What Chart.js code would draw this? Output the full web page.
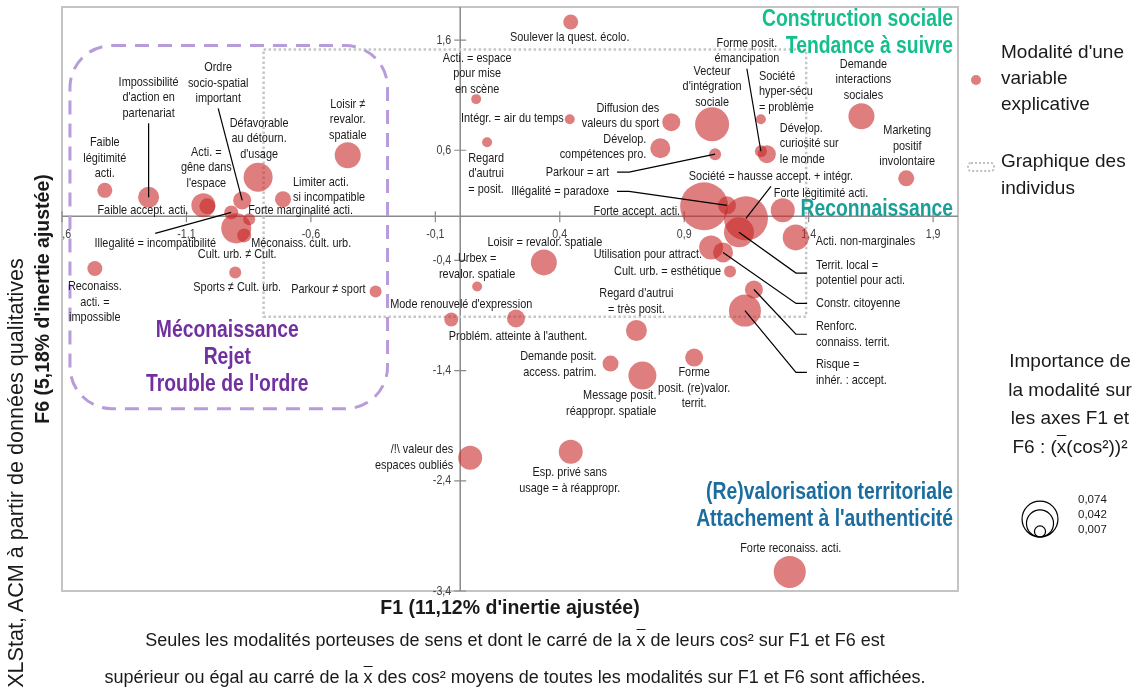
<!DOCTYPE html>
<html lang="fr">
<head>
<meta charset="utf-8">
<title>ACM - plan F1 x F6</title>
<script src="https://cdn.jsdelivr.net/npm/chart.js@4.4.1/dist/chart.umd.min.js"></script>
<style>
  html, body { margin: 0; padding: 0; background: #fff; }
  #wrap { position: relative; width: 1137px; height: 695px; overflow: hidden;
          font-family: "Liberation Sans", Arial, sans-serif; color: #1a1a1a; }
  #wrap canvas { position: absolute; left: 0; top: 0; }
  .txt { position: absolute; white-space: nowrap; }
  .ov { text-decoration: overline; }
  .rot { transform: translate(-50%, -50%) rotate(-90deg); }
</style>
</head>
<body>
<div id="wrap">
  <canvas id="chart" width="1137" height="695"></canvas>

  <div class="txt" style="left:310px; top:595px; width:400px; text-align:center; font-weight:bold; font-size:19.5px; line-height:24px;">F1 (11,12% d'inertie ajustée)</div>
  <div class="txt rot" style="left:42px; top:299px; font-weight:bold; font-size:19.5px; line-height:24px;">F6 (5,18% d'inertie ajustée)</div>
  <div class="txt rot" style="left:16px; top:473px; font-size:21.6px; line-height:24px;">XLStat, ACM à partir de données qualitatives</div>

  <div class="txt" style="left:15px; top:622px; width:1000px; text-align:center; font-size:18px; line-height:37px;">
    Seules les modalités porteuses de sens et dont le carré de la <span class="ov">x</span> de leurs cos² sur F1 et F6 est<br>
    supérieur ou égal au carré de la <span class="ov">x</span> des cos² moyens de toutes les modalités sur F1 et F6 sont affichées.
  </div>

  <div class="txt" style="left:1001px; top:39px; font-size:19px; line-height:26px;">Modalité d'une<br>variable<br>explicative</div>
  <div class="txt" style="left:1001px; top:147px; font-size:19px; line-height:27px;">Graphique des<br>individus</div>
  <div class="txt" style="left:995px; top:347px; width:150px; text-align:center; font-size:19px; line-height:28.7px;">Importance de<br>la modalité sur<br>les axes F1 et<br>F6 : (<span class="ov">x</span>(cos²))²</div>
  <div class="txt" id="sizeKeyText" style="left:1078px; top:492px; font-size:11.5px; line-height:15px;"></div>
</div>

<script>
// axes
const xTicks = [-1.6, -1.1, -0.6, -0.1, 0.4, 0.9, 1.4, 1.9];
const yTicks = [-3.4, -2.4, -1.4, -0.4, 0.6, 1.6];

// modalites (coordonnees F1 / F6 et importance (moyenne des cos²)²)
const modalites = [
  'Faible\nlégitimité\nacti.',
  'Impossibilité\nd\'action en\npartenariat',
  'Faible accept. acti.',
  'Acti. =\ngêne dans\nl\'espace',
  'Ordre\nsocio-spatial\nimportant',
  'Défavorable\nau détourn.\nd\'usage',
  'Limiter acti.\nsi incompatible',
  'Loisir ≠\nrevalor.\nspatiale',
  'Illegalité = incompatibilité',
  'Forte marginalité acti.',
  'Cult. urb. ≠ Cult.',
  'Méconaiss. cult. urb.',
  'Sports ≠ Cult. urb.',
  'Reconaiss.\nacti. =\nimpossible',
  'Parkour ≠ sport',
  'Soulever la quest. écolo.',
  'Acti. = espace\npour mise\nen scène',
  'Intégr. = air du temps',
  'Regard\nd\'autrui\n= posit.',
  'Diffusion des\nvaleurs du sport',
  'Dévelop.\ncompétences pro.',
  'Parkour = art',
  'Illégalité = paradoxe',
  'Forte accept. acti.',
  'Vecteur\nd\'intégration\nsociale',
  'Forme posit.\némancipation',
  'Société\nhyper-sécu\n= problème',
  'Dévelop.\ncuriosité sur\nle monde',
  'Demande\ninteractions\nsociales',
  'Marketing\npositif\ninvolontaire',
  'Société = hausse accept. + intégr.',
  'Forte légitimité acti.',
  'Territ. local =\npotentiel pour acti.',
  'Acti. non-marginales',
  'Utilisation pour attract.',
  'Constr. citoyenne',
  'Cult. urb. = esthétique',
  'Renforc.\nconnaiss. territ.',
  'Risque =\ninhér. : accept.',
  'Forme\nposit. (re)valor.\nterrit.',
  'Loisir = revalor. spatiale',
  'Urbex =\nrevalor. spatiale',
  'Mode renouvelé d\'expression',
  'Problém. atteinte à l\'authent.',
  'Regard d\'autrui\n= très posit.',
  'Demande posit.\naccess. patrim.',
  'Message posit.\nréappropr. spatiale',
  '/!\\ valeur des\nespaces oubliés',
  'Esp. privé sans\nusage = à réappropr.',
  'Forte reconaiss. acti.'
];
const f1 = [-1.428, -1.252, -1.032, -1.016, -0.876, -0.812, -0.712, -0.452, -0.920, -0.848,
            -0.900, -0.868, -0.904, -1.468, -0.340, 0.444, 0.064, 0.440, 0.108, 0.848,
            0.804, 1.024, 1.072, 0.980, 1.012, 1.208, 1.208, 1.232, 1.612, 1.792,
            1.148, 1.296, 1.120, 1.348, 1.008, 1.056, 1.084, 1.180, 1.144, 0.940,
            0.336, 0.068, -0.036, 0.224, 0.708, 0.604, 0.732, 0.040, 0.444, 1.324];
const f6 = [0.236, 0.173, 0.100, 0.091, 0.145, 0.355, 0.155, 0.555, 0.036, -0.027,
            -0.109, -0.173, -0.509, -0.473, -0.682, 1.764, 1.064, 0.882, 0.673, 0.855,
            0.618, 0.564, 0.100, 0.091, 0.836, 0.591, 0.882, 0.564, 0.909, 0.345,
            -0.018, 0.055, -0.145, -0.191, -0.282, -0.327, -0.500, -0.664, -0.855, -1.282,
            -0.418, -0.636, -0.936, -0.927, -1.036, -1.336, -1.445, -2.191, -2.136, -3.227];
const importance = [0.0129, 0.0253, 0.0331, 0.0147, 0.0186, 0.0483, 0.0147, 0.0388, 0.0112, 0.0083,
                    0.0517, 0.0112, 0.0083, 0.0129, 0.0083, 0.0129, 0.0057, 0.0057, 0.0057, 0.0186,
                    0.0230, 0.0083, 0.0186, 0.1322, 0.0663, 0.0083, 0.0057, 0.0186, 0.0388, 0.0147,
                    0.1111, 0.0331, 0.0517, 0.0388, 0.0331, 0.0230, 0.0083, 0.0186, 0.0588, 0.0186,
                    0.0388, 0.0057, 0.0112, 0.0186, 0.0253, 0.0147, 0.0450, 0.0331, 0.0331, 0.0588];
const sizeKeys = [0.074, 0.042, 0.007];

// placement des etiquettes : [dx, dy, alignement, trait de rappel]
const place = [
  [0, -48, 'c'], [0, -115, 'c', 'b'], [-15, 5, 'r'], [-1, -54, 'c'], [-24, -133, 'c', 'b'],
  [1, -54, 'c'], [10, -17, 'l'], [0, -51, 'c'], [-76, 31, 'c', 't'], [-1, -9, 'l'],
  [1, 26, 'c'], [7, 8, 'l'], [2, 15, 'c'], [0, 18, 'c'], [-10, -2, 'r'],
  [-1, 15, 'c'], [1, -41, 'c'], [-6, -1, 'r'], [-1, 16, 'c'], [-12, -14, 'r'],
  [-14, -9, 'r'], [-106, 18, 'r', 'e'], [-118, -14, 'r', 'e'], [-24, 5, 'r'], [0, -53, 'c'],
  [-14, -108, 'c', 'b'], [-2, -43, 'l'], [13, -26, 'l'], [2, -52, 'c'], [1, -48, 'c'],
  [25, -42, 'c', 'b'], [-9, -17, 'l'], [77, 33, 'l', 'e'], [20, 4, 'l'], [-9, 7, 'r'],
  [93, 51, 'l', 'e'], [-9, 0, 'r'], [62, 37, 'l', 'e'], [71, 54, 'l', 'e'], [0, 15, 'c'],
  [1, -20, 'c'], [0, -28, 'c'], [10, -15, 'c'], [2, 18, 'c'], [0, -37, 'c'],
  [-14, -7, 'r'], [14, 20, 'r'], [-17, -8, 'r'], [-1, 21, 'c'], [1, -24, 'c']
];

// zones d'interpretation
const zones = [
  { lines: ['Construction sociale', 'Tendance à suivre'], x: 1.98, y: 1.782, align: 'right', color: '#14bf8c' },
  { lines: ['Reconnaissance'], x: 1.98, y: 0.064, align: 'right', color: '#1aa098' },
  { lines: ['(Re)valorisation territoriale', 'Attachement à l\'authenticité'], x: 1.98, y: -2.509, align: 'right', color: '#1b6d9f' },
  { lines: ['Méconaissance', 'Rejet', 'Trouble de l\'ordre'], x: -0.936, y: -1.036, align: 'center', color: '#7030a0' }
];
const individus = { x0: -0.79, x1: 1.39, y0: -0.91, y1: 1.515 };
const rejet = { x0: -1.568, x1: -0.292, y0: -1.745, y1: 1.55 };

const bubbleColor = 'rgba(200, 40, 40, 0.6)';
const sans = '"Liberation Sans", Arial, sans-serif';
const NARROW = 0.82; // Arial Narrow simule
const bubbleR = v => 66 * Math.sqrt(v);
const fmt = v => String(Math.round(v * 10) / 10).replace('.', ',');
const fmt3 = v => v.toFixed(3).replace('.', ',');

document.getElementById('sizeKeyText').innerHTML = sizeKeys.map(fmt3).join('<br>');

function narrowText(ctx, t, x, y, k) {
  ctx.fillText(t, x, y, ctx.measureText(t).width * k);
}

function roundRect(ctx, x, y, w, h, r) {
  ctx.beginPath();
  ctx.moveTo(x + r, y);
  ctx.arcTo(x + w, y, x + w, y + h, r);
  ctx.arcTo(x + w, y + h, x, y + h, r);
  ctx.arcTo(x, y + h, x, y, r);
  ctx.arcTo(x, y, x + w, y, r);
  ctx.closePath();
}

const framePlugin = {
  id: 'frame',
  beforeDatasetsDraw(chart) {
    const { ctx, chartArea: a, scales: { x, y } } = chart;
    const x0 = x.getPixelForValue(0), y0 = y.getPixelForValue(0);
    ctx.save();
    // cadre
    ctx.strokeStyle = '#c4c4c4';
    ctx.lineWidth = 2;
    ctx.strokeRect(a.left, a.top, a.right - a.left, a.bottom - a.top);
    // axes passant par l'origine + graduations croisees
    ctx.strokeStyle = '#8a8a8a';
    ctx.lineWidth = 1.5;
    ctx.beginPath();
    ctx.moveTo(a.left, y0); ctx.lineTo(a.right, y0);
    ctx.moveTo(x0, a.top); ctx.lineTo(x0, a.bottom);
    ctx.stroke();
    ctx.lineWidth = 1.2;
    ctx.beginPath();
    xTicks.forEach(v => { const p = x.getPixelForValue(v); ctx.moveTo(p, y0 - 5); ctx.lineTo(p, y0 + 6); });
    yTicks.forEach(v => { const p = y.getPixelForValue(v); ctx.moveTo(x0 - 6, p); ctx.lineTo(x0 + 6, p); });
    ctx.stroke();
    // etiquettes des graduations
    ctx.font = '13px ' + sans;
    ctx.fillStyle = '#404040';
    ctx.textBaseline = 'middle';
    ctx.textAlign = 'right';
    yTicks.forEach(v => narrowText(ctx, fmt(v), x0 - 9, y.getPixelForValue(v), NARROW));
    ctx.save();
    ctx.beginPath();
    ctx.rect(a.left, 0, a.right - a.left, chart.height);
    ctx.clip();
    ctx.textAlign = 'center';
    xTicks.forEach(v => narrowText(ctx, fmt(v), x.getPixelForValue(v), y0 + 18, NARROW));
    ctx.restore();
    // graphique des individus
    ctx.strokeStyle = '#c6c6c6';
    ctx.lineWidth = 2.5;
    ctx.setLineDash([2.5, 2.5]);
    const ix = x.getPixelForValue(individus.x0), iy = y.getPixelForValue(individus.y1);
    ctx.strokeRect(ix, iy, x.getPixelForValue(individus.x1) - ix, y.getPixelForValue(individus.y0) - iy);
    // zone rejet
    ctx.strokeStyle = '#b79bdb';
    ctx.lineWidth = 3;
    ctx.setLineDash([14, 9]);
    const rx = x.getPixelForValue(rejet.x0), ry = y.getPixelForValue(rejet.y1);
    roundRect(ctx, rx, ry, x.getPixelForValue(rejet.x1) - rx, y.getPixelForValue(rejet.y0) - ry, 42);
    ctx.stroke();
    ctx.restore();
  }
};

const LH = 15.5;
const labelPlugin = {
  id: 'modaliteLabels',
  afterDatasetsDraw(chart) {
    const { ctx, scales: { x, y } } = chart;
    const pts = chart.getDatasetMeta(0).data;
    ctx.save();
    ctx.font = '13.3px ' + sans;
    ctx.fillStyle = '#1a1a1a';
    ctx.strokeStyle = '#000';
    ctx.lineWidth = 1.2;
    ctx.textBaseline = 'middle';
    modalites.forEach((name, i) => {
      const [dx, dy, al, lead] = place[i];
      const lines = name.split('\n');
      const bx = pts[i].x, by = pts[i].y;
      const lx = bx + dx, ly = by + dy;
      const align = al === 'c' ? 'center' : al === 'l' ? 'left' : 'right';
      ctx.textAlign = align;
      lines.forEach((t, k) => narrowText(ctx, t, lx, ly + k * LH, NARROW));
      if (lead) {
        const lastY = ly + (lines.length - 1) * LH;
        const midY = (ly + lastY) / 2;
        ctx.beginPath();
        if (lead === 'b') { ctx.moveTo(lx, lastY + 10); ctx.lineTo(bx, by); }
        else if (lead === 't') { ctx.moveTo(lx, ly - 10); ctx.lineTo(bx, by); }
        else if (align === 'left') { ctx.moveTo(lx - 9, midY); ctx.lineTo(lx - 20, midY); ctx.lineTo(bx, by); }
        else { ctx.moveTo(lx + 8, midY); ctx.lineTo(lx + 20, midY); ctx.lineTo(bx, by); }
        ctx.stroke();
      }
    });
    // titres des zones
    ctx.font = 'bold 23px ' + sans;
    zones.forEach(z => {
      ctx.fillStyle = z.color;
      ctx.textAlign = z.align;
      const px = x.getPixelForValue(z.x), py = y.getPixelForValue(z.y);
      z.lines.forEach((t, k) => narrowText(ctx, t, px, py + k * 27, 0.84));
    });
    ctx.restore();
  }
};

const legendPlugin = {
  id: 'sideLegend',
  afterDraw(chart) {
    const ctx = chart.ctx;
    ctx.save();
    ctx.fillStyle = bubbleColor;
    ctx.beginPath();
    ctx.arc(976, 80, 5, 0, Math.PI * 2);
    ctx.fill();
    ctx.strokeStyle = '#c0c0c0';
    ctx.lineWidth = 2;
    ctx.setLineDash([2, 2]);
    roundRect(ctx, 968, 163, 26, 8, 3);
    ctx.stroke();
    ctx.setLineDash([]);
    ctx.strokeStyle = '#000';
    ctx.lineWidth = 1.2;
    sizeKeys.forEach(v => {
      const r = bubbleR(v);
      ctx.beginPath();
      ctx.arc(1040, 537 - r, r, 0, Math.PI * 2);
      ctx.stroke();
    });
    ctx.restore();
  }
};

const points = f1.map((v, i) => ({ x: v, y: f6[i], r: bubbleR(importance[i]) }));

new Chart(document.getElementById('chart'), {
  type: 'bubble',
  data: {
    datasets: [{
      label: 'Modalité d\'une variable explicative',
      data: points,
      backgroundColor: bubbleColor,
      borderWidth: 0,
      hoverRadius: 0
    }]
  },
  options: {
    responsive: false,
    animation: false,
    devicePixelRatio: 1,
    events: [],
    layout: { autoPadding: false, padding: { left: 62, top: 7, right: 179, bottom: 104 } },
    plugins: { legend: { display: false }, tooltip: { enabled: false } },
    scales: {
      x: { type: 'linear', display: false, min: -1.6, max: 2.0 },
      y: { type: 'linear', display: false, min: -3.4, max: 1.9 }
    }
  },
  plugins: [framePlugin, labelPlugin, legendPlugin]
});
</script>
</body>
</html>
